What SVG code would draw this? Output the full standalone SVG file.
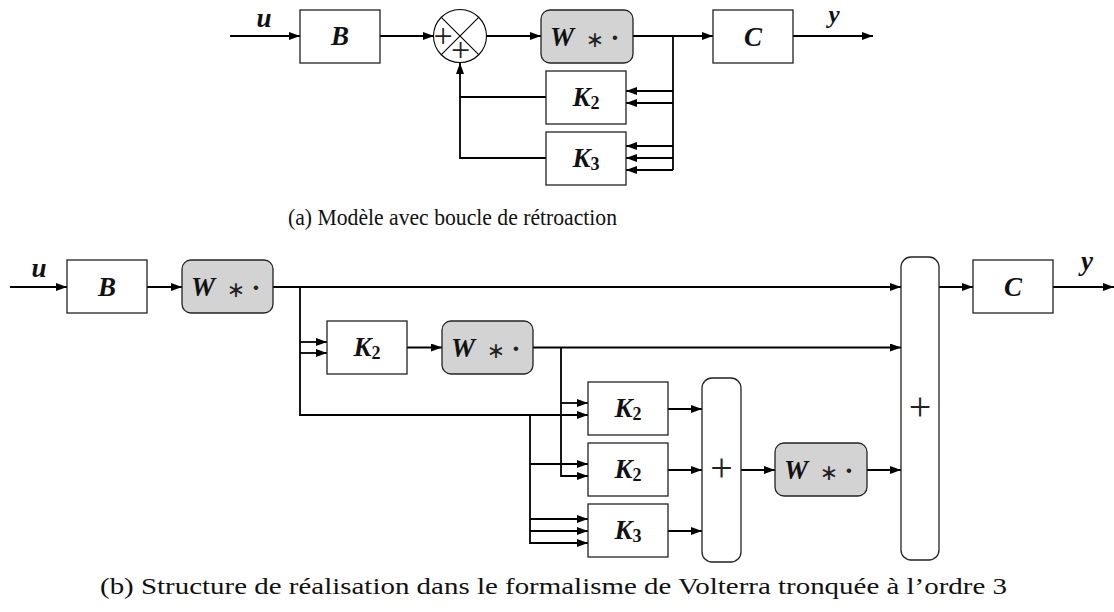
<svg xmlns="http://www.w3.org/2000/svg" width="1114" height="612" viewBox="0 0 1114 612">
<defs>
<marker id="ah" markerUnits="userSpaceOnUse" markerWidth="11" markerHeight="8" refX="11" refY="4" orient="auto">
<path d="M0,0 L11,4 L0,8 z" fill="#000"/>
</marker>
<style>
.box{fill:#fff;stroke:#222;stroke-width:1.3}
.wb{fill:#d3d3d3;stroke:#222;stroke-width:1.3}
.sb{fill:#fff;stroke:#222;stroke-width:1.3}
.ln{fill:none;stroke:#000;stroke-width:1.8}
.ar{fill:none;stroke:#000;stroke-width:1.8;marker-end:url(#ah)}
.thin{fill:none;stroke:#000;stroke-width:1.1}
.m{font-family:"Liberation Serif","DejaVu Serif",serif;font-weight:bold;font-style:italic;font-size:27px;fill:#111}
.sub{font-style:normal;font-size:18px}
.ast{font-family:"DejaVu Sans","Liberation Sans",sans-serif;font-weight:normal;font-style:normal;font-size:22px;fill:#222}
.dot{font-family:"Liberation Serif","DejaVu Serif",serif;font-weight:bold;font-style:normal;font-size:28px;fill:#222}
.pl{font-family:"Liberation Serif","DejaVu Serif",serif;font-size:34px;font-weight:normal;fill:#222}
.plb{font-family:"Liberation Serif","DejaVu Serif",serif;font-size:40px;font-weight:normal;fill:#222}
.cap{font-family:"Liberation Serif","DejaVu Serif",serif;font-size:23px;fill:#111}
</style>
</defs>

<g id="connectors">
<!-- top diagram -->
<path class="ar" d="M230,36 H300"/>
<path class="ar" d="M380,36 H434"/>
<path class="ar" d="M486,36 H541"/>
<path class="ar" d="M633,36 H713"/>
<path class="ar" d="M793,36 H873"/>
<path class="ln" d="M673,36 V170"/>
<path class="ar" d="M673,91 H626"/>
<path class="ar" d="M673,103 H626"/>
<path class="ar" d="M673,146 H626"/>
<path class="ar" d="M673,158 H626"/>
<path class="ar" d="M673,170 H626"/>
<path class="ln" d="M546,97 H460"/>
<path class="ar" d="M546,158 H460 V63"/>
<!-- bottom diagram -->
<path class="ar" d="M10,287 H67"/>
<path class="ar" d="M147,287 H182"/>
<path class="ar" d="M273,287 H901"/>
<path class="ar" d="M300,287 V415 H588"/>
<path class="ar" d="M300,342 H327"/>
<path class="ar" d="M300,353 H327"/>
<path class="ar" d="M407,347.5 H442"/>
<path class="ar" d="M533,347.5 H901"/>
<path class="ar" d="M561,347.5 V476 H588"/>
<path class="ar" d="M561,403 H588"/>
<path class="ar" d="M530,415 V543 H588"/>
<path class="ar" d="M530,464 H588"/>
<path class="ar" d="M530,519 H588"/>
<path class="ar" d="M530,531 H588"/>
<path class="ar" d="M668,409 H702"/>
<path class="ar" d="M668,470 H702"/>
<path class="ar" d="M668,531 H702"/>
<path class="ar" d="M741,470 H775"/>
<path class="ar" d="M867,470 H901"/>
<path class="ar" d="M939,287 H973"/>
<path class="ar" d="M1053,287 H1114"/>
</g>

<g id="labels">
<text class="m" x="264" y="27" text-anchor="middle">u</text>
<text class="m" x="834" y="23" text-anchor="middle" style="font-size:25px">y</text>
<text class="m" x="39" y="277" text-anchor="middle">u</text>
<text class="m" x="1087" y="270" text-anchor="middle">y</text>
</g>

<!-- top diagram nodes -->
<g id="a-B">
<rect class="box" x="300" y="10" width="80" height="53"/>
<text class="m" x="340" y="45" text-anchor="middle">B</text>
</g>
<g id="a-sum">
<circle class="thin" cx="460" cy="36" r="26.5" fill="#fff"/>
<path class="thin" d="M441.3,17.3 L478.7,54.7 M478.7,17.3 L441.3,54.7"/>
<text class="pl" x="443" y="47" text-anchor="middle">+</text>
<text class="pl" x="460.5" y="61" text-anchor="middle">+</text>
</g>
<g id="a-W">
<rect class="wb" x="541" y="10" width="92" height="53" rx="9"/>
<text class="m" x="550" y="46">W</text>
<text class="ast" x="595" y="47" text-anchor="middle">∗</text>
<text class="dot" x="615" y="47" text-anchor="middle">·</text>
</g>
<g id="a-C">
<rect class="box" x="713" y="10" width="80" height="53"/>
<text class="m" x="753" y="46" text-anchor="middle">C</text>
</g>
<g id="a-K2">
<rect class="box" x="546" y="71" width="80" height="53"/>
<text class="m" x="586" y="106" text-anchor="middle">K<tspan class="sub" dy="3">2</tspan></text>
</g>
<g id="a-K3">
<rect class="box" x="546" y="132" width="80" height="53"/>
<text class="m" x="586" y="167" text-anchor="middle">K<tspan class="sub" dy="3">3</tspan></text>
</g>

<!-- bottom diagram nodes -->
<g id="b-B">
<rect class="box" x="67" y="260" width="80" height="53"/>
<text class="m" x="107" y="296" text-anchor="middle">B</text>
</g>
<g id="b-W1">
<rect class="wb" x="182" y="260" width="91" height="53" rx="9"/>
<text class="m" x="191" y="296">W</text>
<text class="ast" x="236" y="297" text-anchor="middle">∗</text>
<text class="dot" x="256" y="297" text-anchor="middle">·</text>
</g>
<g id="b-K2a">
<rect class="box" x="327" y="321" width="80" height="53"/>
<text class="m" x="367" y="356" text-anchor="middle">K<tspan class="sub" dy="3">2</tspan></text>
</g>
<g id="b-W2">
<rect class="wb" x="442" y="321" width="91" height="53" rx="9"/>
<text class="m" x="451" y="357">W</text>
<text class="ast" x="496" y="358" text-anchor="middle">∗</text>
<text class="dot" x="516" y="358" text-anchor="middle">·</text>
</g>
<g id="b-K2b">
<rect class="box" x="588" y="382" width="80" height="53"/>
<text class="m" x="628" y="417" text-anchor="middle">K<tspan class="sub" dy="3">2</tspan></text>
</g>
<g id="b-K2c">
<rect class="box" x="588" y="443" width="80" height="53"/>
<text class="m" x="628" y="478" text-anchor="middle">K<tspan class="sub" dy="3">2</tspan></text>
</g>
<g id="b-K3">
<rect class="box" x="588" y="504" width="80" height="53"/>
<text class="m" x="628" y="539" text-anchor="middle">K<tspan class="sub" dy="3">3</tspan></text>
</g>
<g id="b-sum1">
<rect class="sb" x="702" y="378" width="39" height="184" rx="10"/>
<text class="plb" x="721.5" y="481" text-anchor="middle">+</text>
</g>
<g id="b-W3">
<rect class="wb" x="775" y="443" width="92" height="53" rx="9"/>
<text class="m" x="784" y="479">W</text>
<text class="ast" x="829" y="480" text-anchor="middle">∗</text>
<text class="dot" x="849" y="480" text-anchor="middle">·</text>
</g>
<g id="b-sum2">
<rect class="sb" x="901" y="257" width="38" height="303" rx="10"/>
<text class="plb" x="920" y="420" text-anchor="middle">+</text>
</g>
<g id="b-C">
<rect class="box" x="973" y="260" width="80" height="53"/>
<text class="m" x="1013" y="296" text-anchor="middle">C</text>
</g>

<g id="captions">
<text class="cap" x="288" y="225" textLength="329" lengthAdjust="spacingAndGlyphs">(a) Modèle avec boucle de rétroaction</text>
<text class="cap" x="100" y="594" textLength="907" lengthAdjust="spacingAndGlyphs">(b) Structure de réalisation dans le formalisme de Volterra tronquée à l’ordre 3</text>
</g>
</svg>
